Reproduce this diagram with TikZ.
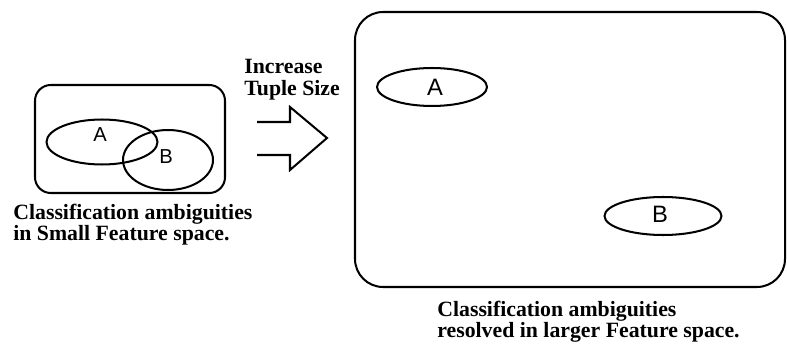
\documentclass[tikz,border=0pt]{standalone}
\usepackage{fontspec}
\setmainfont{Liberation Serif}
\newfontfamily\letterfont{Liberation Sans}
\usetikzlibrary{shapes.geometric}

\begin{document}
\begin{tikzpicture}[x=0.02cm,y=-0.02cm,
space/.style={draw,line width=1.15pt},
cls/.style={draw,ellipse,line width=1.15pt,inner sep=0pt},
letter/.style={font=\letterfont\fontsize{#1}{#1}\selectfont,inner sep=0pt},
captext/.style={font=\bfseries\fontsize{12.4}{11.4pt}\selectfont,align=left,inner sep=0pt,anchor=base west}]
\useasboundingbox (0,0) rectangle (787,344);

% small feature space: the two classes overlap
\draw[space,rounded corners=9pt] (35,85) rectangle (225,193);
\node[cls,minimum width=2.22cm,minimum height=0.9cm] (sA) at (102,142) {};
\node[cls,minimum width=1.8cm,minimum height=1.2cm] (sB) at (168,160) {};
\node[letter=11.5] (sAl) at (100,135) {A};
\node[letter=11.5] (sBl) at (166,157) {B};
% base anchor sits on the last line
\node[captext] (sCap) at (13,240) {Classification ambiguities\\in Small Feature space.};

% hollow block arrow
\node[captext,font=\bfseries\fontsize{12.4}{12.6pt}\selectfont] (grow) at (244,96) {Increase\\Tuple Size};
\draw[line width=1.15pt,line join=miter] (257,122) -- (290,122) -- (290,107) -- (327,138)
  -- (290,170) -- (290,155) -- (257,155);

% larger feature space: the classes are apart
\draw[space,rounded corners=16pt] (355,12) rectangle (785,287);
\node[cls,minimum width=2.2cm,minimum height=0.76cm] (bA) at (432,87) {};
\node[cls,minimum width=2.34cm,minimum height=0.76cm] (bB) at (663,216) {};
\node[letter=13.5] (bAl) at (435,87) {A};
\node[letter=13.5] (bBl) at (660,214) {B};
\node[captext] (bCap) at (437,337) {Classification ambiguities\\ resolved in larger Feature space.};
\end{tikzpicture}
\end{document}
